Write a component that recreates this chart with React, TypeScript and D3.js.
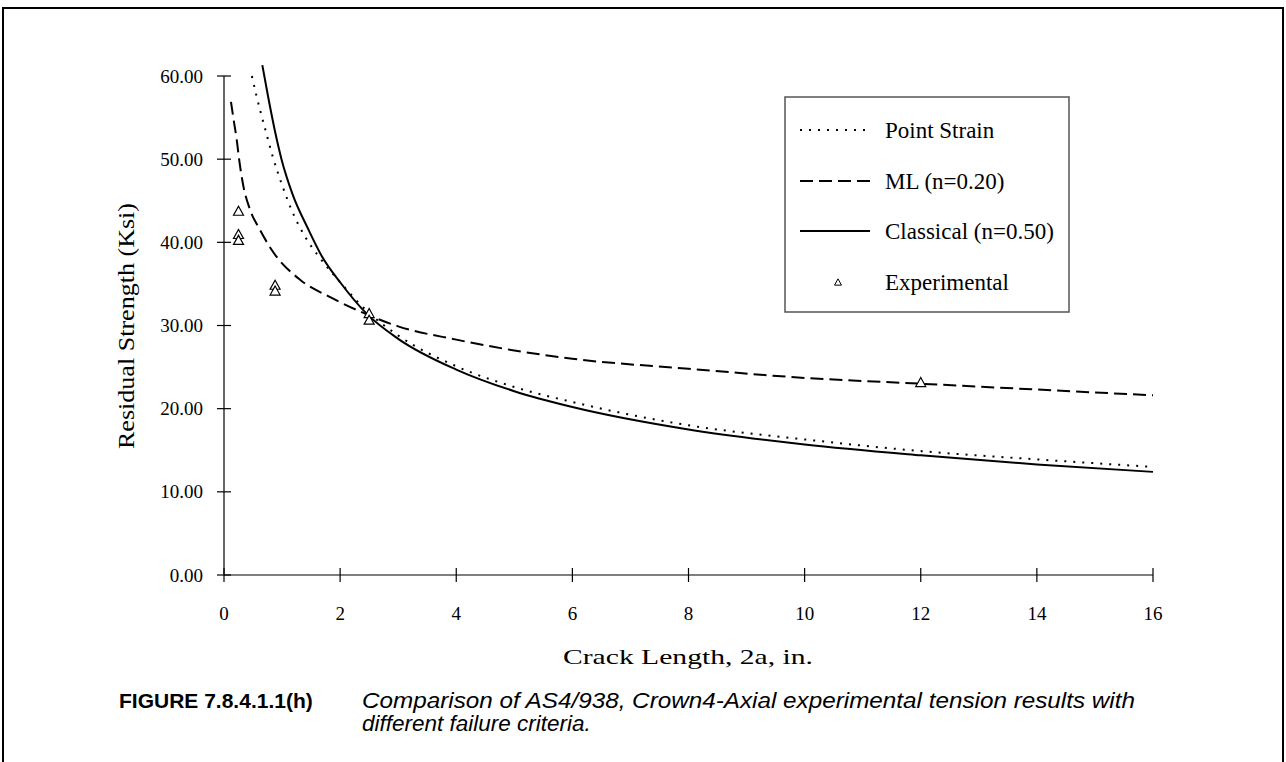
import React from "react";
import * as d3 from "d3";

const xTicks = [0, 2, 4, 6, 8, 10, 12, 14, 16];
const yTicks = [0, 10, 20, 30, 40, 50, 60];

const pointStrainX = [0.48, 0.56, 0.71, 0.84, 1.0, 1.17, 1.42, 1.6, 2.0, 2.5, 3.0, 4.0, 5.0, 6.0, 8.0, 10, 12, 14, 16];
const pointStrainY = [60, 57.6, 53.6, 50.3, 46.9, 43.8, 40.4, 38.6, 35.2, 31.5, 28.8, 25.1, 22.6, 20.8, 18.0, 16.3, 14.9, 13.9, 13.0];

const mlX = [0.12, 0.16, 0.22, 0.26, 0.33, 0.45, 0.62, 0.82, 1.31, 1.83, 2.34, 3.0, 4.0, 5.0, 6.0, 8.0, 10, 12, 14, 16];
const mlY = [56.9, 55.0, 52.3, 50.0, 46.9, 43.9, 41.5, 39.1, 35.5, 33.4, 31.7, 29.9, 28.3, 27.0, 26.0, 24.8, 23.7, 23.0, 22.3, 21.6];

const classicalX = [0.66, 0.76, 0.88, 0.99, 1.18, 1.45, 1.68, 2.0, 2.46, 3.0, 4.0, 5.0, 6.0, 8.0, 10, 12, 14, 16];
const classicalY = [61.3, 57.5, 53.3, 50.0, 45.8, 41.6, 38.4, 35.2, 31.4, 28.4, 24.7, 22.1, 20.2, 17.5, 15.7, 14.4, 13.3, 12.4];

const expX = [0.25, 0.25, 0.25, 0.88, 0.88, 2.5, 2.5, 12];
const expY = [43.8, 41.0, 40.3, 34.9, 34.2, 31.5, 30.7, 23.2];

const legendLabels = ["Point Strain", "ML (n=0.20)", "Classical (n=0.50)", "Experimental"];
const yTitle = "Residual Strength (Ksi)";
const xTitle = "Crack Length, 2a, in.";
const figLabel = "FIGURE 7.8.4.1.1(h)";
const captionLines = [
  "Comparison of AS4/938, Crown4-Axial experimental tension results with",
  "different failure criteria.",
];

const serif = "'Liberation Serif', 'Times New Roman', serif";
const sans = "'Liberation Sans', Arial, sans-serif";

export default function App() {
  const x = d3.scaleLinear().domain([0, 16]).range([224, 1153]);
  const y = d3.scaleLinear().domain([0, 60]).range([575, 76]);

  const line = d3
    .line<[number, number]>()
    .x((d) => x(d[0]))
    .y((d) => y(d[1]))
    .curve(d3.curveMonotoneX);

  const zip = (a: number[], b: number[]) => a.map((v, i) => [v, b[i]] as [number, number]);

  const series = [
    { pts: zip(pointStrainX, pointStrainY), dash: "2,7", w: 2 },
    { pts: zip(mlX, mlY), dash: "13,6", w: 2 },
    { pts: zip(classicalX, classicalY), dash: "none", w: 2 },
  ];

  const tri = (cx: number, cy: number, s: number) => {
    const h = s * 0.9;
    return `M${cx},${cy - h / 2}L${cx + s / 2},${cy + h / 2}L${cx - s / 2},${cy + h / 2}Z`;
  };

  const legendRows = [130, 181, 231, 282];

  return (
    <svg
      width={1286}
      height={762}
      style={{ position: "absolute", left: 0, top: 0, background: "#fff" }}
    >
      <rect x={0} y={0} width={1286} height={762} fill="#fff" />
      {/* outer frame */}
      <path d="M3,770 L3,8 L1283,8 L1283,770" fill="none" stroke="#000" strokeWidth={2} />

      {/* y axis */}
      <line x1={224} x2={224} y1={y(60)} y2={y(0)} stroke="#000" strokeWidth={1.2} />
      {yTicks.map((t) => (
        <g key={"y" + t}>
          <line x1={217} x2={231} y1={y(t)} y2={y(t)} stroke="#000" strokeWidth={1.2} />
          <text
            x={203}
            y={y(t)}
            dy="0.35em"
            textAnchor="end"
            fontFamily={serif}
            fontSize={19}
          >
            {d3.format(".2f")(t)}
          </text>
        </g>
      ))}

      {/* x axis */}
      <line x1={x(0)} x2={x(16)} y1={575} y2={575} stroke="#000" strokeWidth={1.2} />
      {xTicks.map((t) => (
        <g key={"x" + t}>
          <line x1={x(t)} x2={x(t)} y1={568} y2={582} stroke="#000" strokeWidth={1.2} />
          <text
            x={x(t)}
            y={620}
            textAnchor="middle"
            fontFamily={serif}
            fontSize={19}
          >
            {t}
          </text>
        </g>
      ))}

      {/* axis titles */}
      <text
        transform="translate(134,326) rotate(-90)"
        textAnchor="middle"
        fontFamily={serif}
        fontSize={23}
        textLength={246}
        lengthAdjust="spacingAndGlyphs"
      >
        {yTitle}
      </text>
      <text
        x={688}
        y={664}
        textAnchor="middle"
        fontFamily={serif}
        fontSize={22}
        textLength={250}
        lengthAdjust="spacingAndGlyphs"
      >
        {xTitle}
      </text>

      {/* series */}
      {series.map((s, i) => (
        <path
          key={"s" + i}
          d={line(s.pts) || ""}
          fill="none"
          stroke="#000"
          strokeWidth={s.w}
          strokeDasharray={s.dash}
        />
      ))}

      {/* experimental */}
      {expX.map((v, i) => (
        <path
          key={"e" + i}
          d={tri(x(v), y(expY[i]), 10)}
          fill="#fff"
          stroke="#000"
          strokeWidth={1.2}
        />
      ))}

      {/* legend */}
      <rect x={785} y={97} width={284} height={215} fill="#fff" stroke="#555" strokeWidth={1.5} />
      {series.map((s, i) => (
        <line
          key={"l" + i}
          x1={800}
          x2={870}
          y1={legendRows[i]}
          y2={legendRows[i]}
          stroke="#000"
          strokeWidth={s.w}
          strokeDasharray={s.dash}
        />
      ))}
      <path d={tri(838, legendRows[3], 7)} fill="#fff" stroke="#000" strokeWidth={1} />
      {legendLabels.map((l, i) => (
        <text
          key={"t" + i}
          x={885}
          y={legendRows[i]}
          dy="0.35em"
          fontFamily={serif}
          fontSize={23}
        >
          {l}
        </text>
      ))}

      {/* caption */}
      <text x={119} y={708} fontFamily={sans} fontWeight="bold" fontSize={21}>
        {figLabel}
      </text>
      {captionLines.map((c, i) => (
        <text
          key={"c" + i}
          x={362}
          y={708 + i * 23}
          fontFamily={sans}
          fontStyle="italic"
          fontSize={22.5}
          textLength={i === 0 ? 773 : undefined}
          lengthAdjust={i === 0 ? "spacingAndGlyphs" : undefined}
        >
          {c}
        </text>
      ))}
    </svg>
  );
}
